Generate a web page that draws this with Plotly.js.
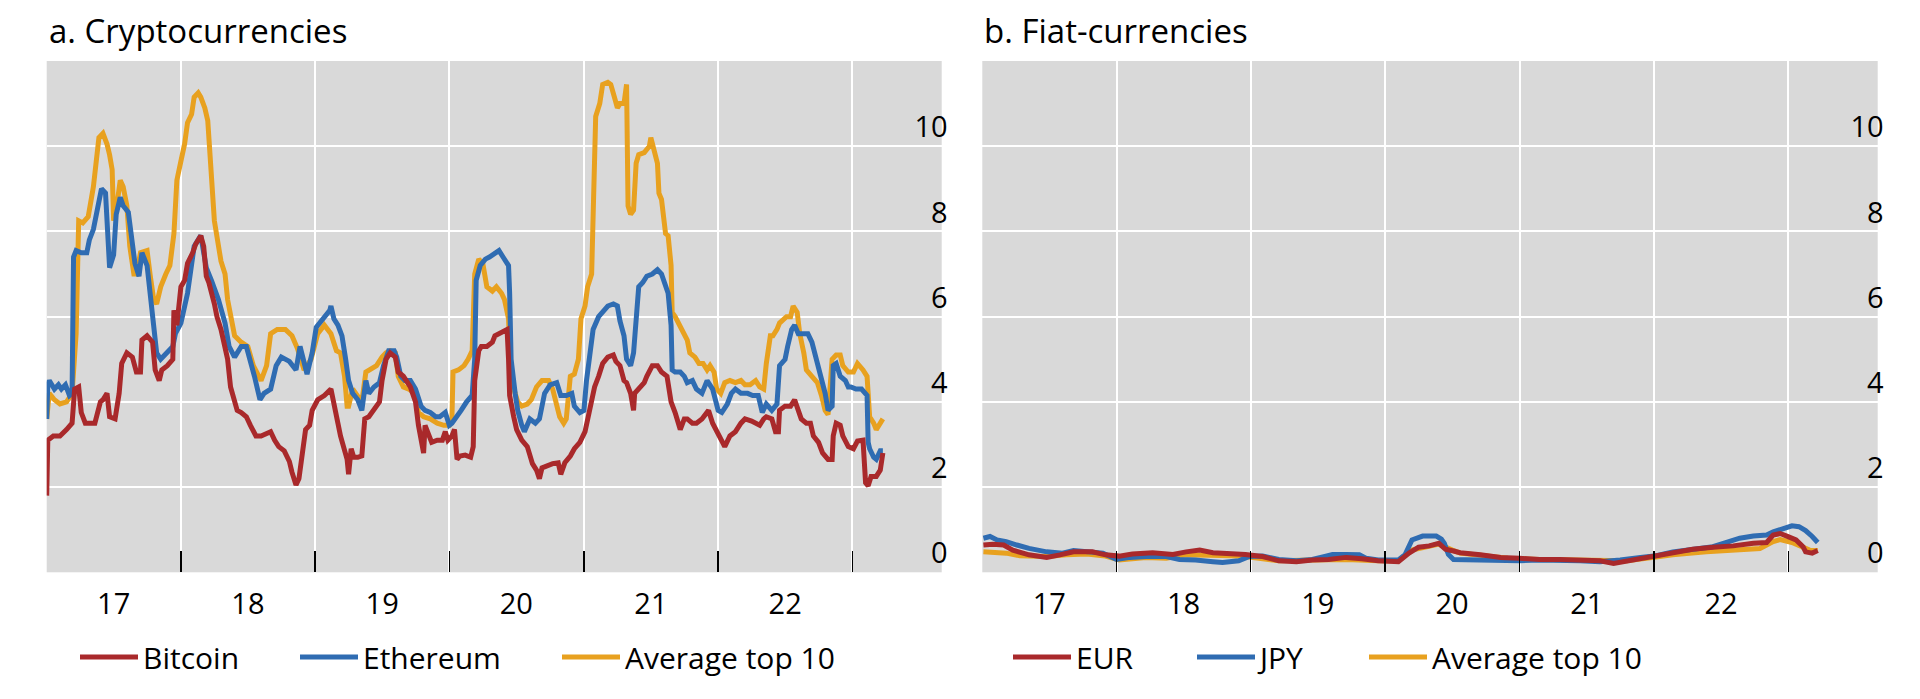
<!DOCTYPE html>
<html><head><meta charset="utf-8">
<script src="https://cdn.plot.ly/plotly-3.0.1.min.js"></script>
<style>html,body{margin:0;padding:0;background:#fff;}#chart{width:1920px;height:699px;}</style>
</head><body><div id="chart"></div>
<script>
// ---------- axis / label data ----------
const yearTicks = ['2017-01-01','2018-01-01','2019-01-01','2020-01-01','2021-01-01','2022-01-01','2023-01-01'];
const yearLabels = ['17','18','19','20','21','22',''];
const yTicks = [0,2,4,6,8,10];
const xRange = ['2017-01-01','2023-09-01'];
const yRange = [0,12];
const panelTitles = ['a. Cryptocurrencies','b. Fiat-currencies'];
const cryptoNames = ['Bitcoin','Ethereum','Average top 10'];
const fiatNames = ['EUR','JPY','Average top 10'];

// ---------- panel a: cryptocurrencies (time in decimal years, value) ----------
const btcT = [2017.00,2017.01,2017.05,2017.10,2017.15,2017.19,2017.21,2017.24,2017.26,2017.29,2017.33,2017.36,2017.40,2017.42,2017.45,2017.47,2017.51,2017.54,2017.56,2017.60,2017.64,2017.67,2017.70,2017.71,2017.75,2017.79,2017.81,2017.84,2017.86,2017.90,2017.94,2017.95,2017.97,2018.00,2018.03,2018.05,2018.09,2018.11,2018.15,2018.17,2018.19,2018.21,2018.25,2018.27,2018.30,2018.32,2018.35,2018.37,2018.40,2018.42,2018.45,2018.49,2018.52,2018.56,2018.60,2018.64,2018.67,2018.70,2018.73,2018.77,2018.81,2018.83,2018.86,2018.88,2018.91,2018.93,2018.96,2018.98,2019.02,2019.07,
2019.12,2019.14,2019.17,2019.19,2019.22,2019.24,2019.25,2019.27,2019.29,2019.32,2019.35,2019.37,2019.40,2019.44,2019.48,2019.50,2019.53,2019.56,2019.60,2019.62,2019.66,2019.71,2019.75,2019.77,2019.80,2019.81,2019.82,2019.85,2019.87,2019.91,2019.95,2019.97,2019.99,2020.02,2020.04,2020.06,2020.08,2020.12,2020.16,2020.18,2020.19,2020.22,2020.24,2020.28,2020.32,2020.34,2020.37,2020.39,2020.43,2020.44,2020.45,2020.48,2020.50,2020.54,2020.58,2020.60,2020.62,2020.65,2020.67,2020.69,2020.72,2020.77,2020.81,2020.83,2020.86,2020.90,2020.93,2020.97,2021.01,2021.03,2021.06,2021.08,2021.11,2021.14,2021.18,2021.22,2021.24,
2021.27,2021.30,2021.32,2021.35,2021.37,2021.38,2021.41,2021.45,2021.47,2021.51,2021.55,2021.58,2021.62,2021.65,2021.68,2021.72,2021.75,2021.77,2021.81,2021.84,2021.88,2021.93,2021.96,2021.99,2022.03,2022.05,2022.09,2022.13,2022.17,2022.20,2022.25,2022.29,2022.31,2022.34,2022.36,2022.40,2022.43,2022.45,2022.46,2022.50,2022.54,2022.57,2022.60,2022.62,2022.66,2022.69,2022.71,2022.75,2022.78,2022.82,2022.85,2022.86,2022.88,2022.91,2022.93,2022.97,2023.01,2023.04,2023.08,2023.10,2023.12,2023.14,2023.18,2023.21,2023.23];
const btcV = [1.8,3.1,3.2,3.2,3.35,3.5,4.3,4.35,3.75,3.5,3.5,3.5,4.0,4.05,4.2,3.65,3.6,4.2,4.9,5.15,5.05,4.7,4.7,5.45,5.55,5.4,4.75,4.5,4.75,4.85,5.0,6.15,5.8,6.7,6.85,7.25,7.5,7.7,7.9,7.65,6.95,6.8,6.3,6.0,5.7,5.4,5.0,4.35,4.05,3.8,3.75,3.65,3.45,3.2,3.2,3.25,3.3,3.1,2.95,2.85,2.6,2.35,2.05,2.2,3.05,3.35,3.45,3.8,4.05,4.15,
4.3,3.9,3.5,3.2,2.9,2.65,2.3,2.9,2.7,2.7,2.73,3.6,3.65,3.8,4.0,4.5,5.0,5.15,5.05,4.7,4.6,4.35,4.0,3.45,2.95,2.8,3.45,3.2,3.05,3.1,3.1,3.3,3.1,3.2,3.35,2.65,2.73,2.75,2.7,2.95,4.5,5.2,5.3,5.3,5.4,5.55,5.6,5.65,5.7,5.0,4.15,3.65,3.35,3.1,2.95,2.75,2.55,2.4,2.2,2.45,2.5,2.55,2.57,2.3,2.57,2.73,2.9,3.05,3.3,3.6,4.05,4.35,4.6,4.9,5.05,5.1,4.95,
4.85,4.5,4.45,4.2,3.8,4.2,4.3,4.45,4.6,4.85,4.85,4.7,4.6,4.0,3.75,3.35,3.6,3.6,3.5,3.5,3.6,3.8,3.5,3.3,3.1,2.95,3.2,3.3,3.5,3.6,3.55,3.5,3.45,3.6,3.65,3.6,3.3,3.3,3.8,3.9,3.9,4.05,3.8,3.6,3.5,3.5,3.2,3.05,2.8,2.65,2.65,3.2,3.5,3.45,3.2,2.95,2.9,3.08,3.1,2.1,2.03,2.25,2.25,2.4,2.8];

const ethT = [2017.00,2017.01,2017.02,2017.06,2017.09,2017.11,2017.14,2017.17,2017.19,2017.20,2017.22,2017.26,2017.30,2017.32,2017.35,2017.39,2017.41,2017.44,2017.45,2017.46,2017.47,2017.50,2017.52,2017.55,2017.57,2017.61,2017.64,2017.66,2017.69,2017.71,2017.75,2017.77,2017.80,2017.82,2017.85,2017.90,2017.94,2017.96,2018.00,2018.05,2018.10,2018.15,2018.19,2018.23,2018.28,2018.33,2018.36,2018.40,2018.45,2018.49,2018.51,2018.55,2018.59,2018.62,2018.67,2018.71,2018.75,2018.81,2018.86,2018.89,2018.94,2018.98,2019.01,2019.06,2019.11,
2019.12,2019.14,2019.17,2019.20,2019.23,2019.25,2019.28,2019.32,2019.35,2019.38,2019.40,2019.44,2019.48,2019.51,2019.55,2019.59,2019.61,2019.64,2019.67,2019.71,2019.75,2019.79,2019.82,2019.86,2019.90,2019.93,2019.97,2020.00,2020.02,2020.06,2020.09,2020.13,2020.17,2020.19,2020.20,2020.23,2020.27,2020.30,2020.34,2020.37,2020.40,2020.44,2020.45,2020.46,2020.49,2020.51,2020.54,2020.56,2020.60,2020.64,2020.67,2020.71,2020.75,2020.80,2020.83,2020.87,2020.91,2020.93,2020.97,2021.00,2021.02,2021.04,2021.07,2021.11,2021.14,2021.18,2021.22,2021.25,
2021.27,2021.30,2021.32,2021.35,2021.37,2021.39,2021.41,2021.44,2021.47,2021.51,2021.55,2021.58,2021.61,2021.63,2021.65,2021.66,2021.68,2021.72,2021.75,2021.77,2021.81,2021.84,2021.88,2021.92,2021.96,2021.98,2022.00,2022.03,2022.07,2022.10,2022.13,2022.17,2022.22,2022.26,2022.30,2022.33,2022.36,2022.40,2022.44,2022.46,2022.50,2022.52,2022.55,2022.57,2022.60,2022.64,2022.67,2022.70,2022.74,2022.77,2022.80,2022.82,2022.85,2022.86,2022.88,2022.91,2022.95,2022.97,2022.99,2023.03,2023.07,2023.11,2023.12,2023.13,2023.16,2023.18,2023.21,2023.23];
const ethV = [3.6,4.4,4.5,4.3,4.4,4.3,4.4,4.15,4.2,7.4,7.55,7.5,7.5,7.8,8.05,8.75,9.0,8.9,8.25,7.35,7.15,7.45,8.4,8.8,8.6,8.45,7.65,7.25,6.95,7.5,7.2,6.55,5.55,5.15,5.0,5.15,5.3,5.6,5.85,6.55,7.65,7.9,7.15,6.85,6.4,5.85,5.3,5.05,5.3,5.3,5.0,4.6,4.05,4.2,4.3,4.85,5.05,4.95,4.75,5.3,4.65,5.15,5.75,5.95,6.15,
6.25,5.95,5.8,5.55,5.0,4.5,4.2,4.05,3.8,4.5,4.2,4.35,4.45,4.85,5.2,5.2,5.05,4.6,4.5,4.5,4.3,3.9,3.8,3.75,3.65,3.65,3.75,3.45,3.5,3.65,3.8,4.0,4.15,5.0,6.85,7.2,7.35,7.4,7.5,7.55,7.4,7.2,6.55,5.0,4.2,3.8,3.45,3.3,3.6,3.5,3.6,4.2,4.4,4.45,4.15,4.15,4.2,3.9,3.75,3.8,4.5,5.0,5.7,6.0,6.1,6.25,6.3,6.25,
5.9,5.55,5.0,4.85,5.15,6.1,6.7,6.8,6.95,7.0,7.1,7.0,6.7,6.55,5.8,4.75,4.7,4.7,4.6,4.45,4.5,4.3,4.2,4.5,4.3,4.05,3.8,3.75,3.95,4.2,4.3,4.2,4.2,4.15,4.15,3.75,3.95,3.8,3.95,4.85,5.0,5.3,5.7,5.8,5.6,5.6,5.6,5.4,4.9,4.6,4.2,3.8,3.9,4.85,4.9,4.6,4.5,4.35,4.35,4.3,4.3,4.15,3.05,2.9,2.7,2.65,2.85,2.85];

const avgCT = [2017.00,2017.02,2017.06,2017.10,2017.15,2017.19,2017.22,2017.24,2017.27,2017.31,2017.35,2017.37,2017.39,2017.42,2017.45,2017.47,2017.49,2017.50,2017.52,2017.55,2017.57,2017.60,2017.62,2017.65,2017.67,2017.70,2017.75,2017.77,2017.80,2017.82,2017.85,2017.89,2017.92,2017.95,2017.97,2018.00,2018.03,2018.05,2018.08,2018.10,2018.13,2018.15,2018.18,2018.20,2018.23,2018.25,2018.30,2018.33,2018.35,2018.38,2018.40,2018.45,2018.50,2018.54,2018.60,2018.64,2018.67,2018.72,2018.78,2018.83,2018.87,2018.92,2018.97,2019.02,2019.07,
2019.12,2019.16,2019.19,2019.22,2019.24,2019.25,2019.28,2019.32,2019.35,2019.38,2019.41,2019.46,2019.50,2019.53,2019.56,2019.60,2019.62,2019.66,2019.70,2019.74,2019.77,2019.81,2019.86,2019.91,2019.96,2020.00,2020.02,2020.03,2020.07,2020.11,2020.14,2020.17,2020.19,2020.22,2020.25,2020.28,2020.32,2020.35,2020.39,2020.41,2020.44,2020.46,2020.49,2020.51,2020.54,2020.58,2020.61,2020.65,2020.69,2020.74,2020.77,2020.80,2020.82,2020.85,2020.87,2020.90,2020.93,2020.96,2020.98,2021.01,2021.03,2021.06,2021.08,2021.09,2021.12,2021.14,2021.18,2021.20,2021.23,2021.25,
2021.27,2021.30,2021.32,2021.33,2021.35,2021.37,2021.39,2021.41,2021.45,2021.49,2021.50,2021.52,2021.55,2021.56,2021.58,2021.61,2021.63,2021.65,2021.66,2021.68,2021.71,2021.75,2021.77,2021.79,2021.83,2021.86,2021.89,2021.92,2021.94,2021.97,2021.99,2022.02,2022.05,2022.09,2022.13,2022.17,2022.20,2022.24,2022.28,2022.31,2022.34,2022.36,2022.39,2022.41,2022.44,2022.46,2022.49,2022.51,2022.54,2022.56,2022.59,2022.61,2022.64,2022.66,2022.70,2022.74,2022.77,2022.80,2022.82,2022.85,2022.88,2022.91,2022.93,2022.97,2023.01,2023.04,2023.08,2023.11,2023.12,2023.13,2023.16,2023.18,2023.21,2023.23];
const avgCV = [3.6,4.2,4.05,3.95,4.0,4.2,5.6,8.25,8.2,8.35,9.05,9.65,10.2,10.3,10.05,9.8,9.45,8.25,8.5,9.2,9.05,8.6,7.65,7.0,7.0,7.5,7.55,7.0,6.4,6.3,6.7,7.0,7.2,7.95,9.2,9.65,10.05,10.55,10.75,11.15,11.25,11.15,10.9,10.6,9.3,8.25,7.3,7.0,6.4,5.8,5.55,5.4,5.3,4.85,4.5,4.85,5.6,5.7,5.7,5.55,5.25,4.75,5.0,5.6,5.8,
5.6,5.2,5.15,4.6,3.9,3.9,4.3,4.15,4.0,4.7,4.75,4.85,5.05,5.15,5.2,5.15,4.6,4.35,4.3,4.2,3.75,3.65,3.6,3.5,3.45,3.45,3.6,4.7,4.75,4.85,5.0,5.2,7.0,7.35,7.25,6.7,6.6,6.7,6.55,6.4,5.95,4.5,4.2,4.0,3.9,3.95,4.05,4.35,4.5,4.5,4.3,3.9,3.65,3.5,3.6,4.6,4.65,5.0,5.95,6.25,6.7,7.0,9.65,10.7,11.0,11.45,11.5,11.45,11.15,10.9,
11.0,11.0,11.45,8.6,8.4,8.5,9.6,9.8,9.85,10.0,10.2,10.0,9.6,8.9,8.75,7.95,7.9,7.2,6.1,6.0,5.8,5.55,5.45,5.15,5.05,4.9,4.9,4.75,4.85,4.7,4.3,4.2,4.45,4.5,4.45,4.5,4.4,4.4,4.5,4.35,4.3,4.9,5.55,5.55,5.7,5.85,5.95,6.0,6.0,6.25,6.1,5.6,5.15,4.75,4.6,4.45,4.15,3.8,3.7,5.0,5.1,5.1,4.85,4.7,4.7,4.9,4.75,4.6,4.2,3.65,3.5,3.35,3.5,3.6];

// ---------- panel b: fiat currencies ----------
const eurT = [2017.01,2017.08,2017.16,2017.23,2017.35,2017.48,2017.58,2017.68,2017.82,2017.92,2018.02,2018.12,2018.27,2018.42,2018.52,2018.62,2018.72,2018.84,2018.96,2019.09,2019.21,2019.34,2019.46,2019.58,2019.71,2019.83,2019.95,2020.10,2020.18,2020.25,2020.33,2020.40,2020.45,2020.51,2020.56,2020.71,2020.86,2021.00,2021.15,2021.30,2021.45,2021.60,2021.70,2021.80,2021.90,2022.00,2022.14,2022.29,2022.44,2022.59,2022.74,2022.84,2022.89,2022.94,2022.99,2023.06,2023.11,2023.13,2023.18,2023.22];
const eurV = [0.64,0.66,0.64,0.52,0.41,0.35,0.41,0.48,0.48,0.41,0.38,0.43,0.46,0.42,0.48,0.52,0.46,0.45,0.42,0.37,0.27,0.25,0.29,0.3,0.35,0.32,0.27,0.25,0.45,0.59,0.62,0.68,0.54,0.5,0.46,0.41,0.35,0.33,0.3,0.3,0.29,0.27,0.21,0.27,0.33,0.38,0.46,0.54,0.59,0.62,0.68,0.7,0.875,0.91,0.85,0.76,0.6,0.48,0.45,0.51];

const jpyT = [2017.01,2017.06,2017.11,2017.18,2017.26,2017.35,2017.48,2017.60,2017.68,2017.80,2017.90,2018.00,2018.10,2018.22,2018.37,2018.47,2018.59,2018.72,2018.79,2018.91,2018.99,2019.09,2019.21,2019.34,2019.46,2019.56,2019.61,2019.71,2019.81,2019.86,2019.95,2020.10,2020.15,2020.20,2020.28,2020.38,2020.42,2020.44,2020.47,2020.51,2020.61,2020.71,2020.86,2021.00,2021.15,2021.30,2021.45,2021.60,2021.70,2021.75,2021.90,2022.00,2022.14,2022.29,2022.44,2022.54,2022.64,2022.74,2022.84,2022.89,2022.96,2023.03,2023.08,2023.13,2023.18,2023.22];
const jpyV = [0.8,0.84,0.76,0.72,0.64,0.56,0.48,0.45,0.51,0.48,0.45,0.3,0.35,0.37,0.37,0.3,0.29,0.25,0.23,0.27,0.37,0.38,0.3,0.27,0.3,0.38,0.42,0.42,0.41,0.33,0.29,0.29,0.41,0.76,0.85,0.85,0.78,0.68,0.42,0.3,0.29,0.3,0.29,0.27,0.29,0.29,0.27,0.25,0.27,0.29,0.35,0.38,0.48,0.54,0.6,0.7,0.8,0.85,0.875,0.95,1.03,1.09,1.07,0.98,0.84,0.7];

const avgFT = [2017.01,2017.11,2017.18,2017.28,2017.48,2017.63,2017.78,2017.92,2018.02,2018.22,2018.37,2018.52,2018.72,2018.86,2018.96,2019.21,2019.46,2019.71,2019.95,2020.10,2020.20,2020.30,2020.40,2020.50,2020.56,2020.71,2020.91,2021.15,2021.60,2021.80,2022.00,2022.14,2022.39,2022.64,2022.79,2022.89,2022.94,2023.03,2023.11,2023.16,2023.22];
const avgFV = [0.48,0.47,0.45,0.39,0.37,0.41,0.43,0.38,0.29,0.35,0.33,0.41,0.41,0.39,0.37,0.27,0.29,0.3,0.27,0.27,0.52,0.6,0.66,0.52,0.45,0.4,0.33,0.3,0.27,0.27,0.35,0.41,0.48,0.52,0.56,0.72,0.77,0.7,0.59,0.52,0.51];

// ---------- styling ----------
const RED = '#A9292B', BLUE = '#2F6CB2', ORANGE = '#E8A11F';
const FONT = '"Open Sans", "Noto Sans", sans-serif';
const LW = 5;

function toDate(t) {
  const y = Math.floor(t + 1e-9);
  const a = Date.UTC(y, 0, 1), b = Date.UTC(y + 1, 0, 1);
  return new Date(a + (t - y) * (b - a)).toISOString().slice(0, 10);
}

function line(T, V, name, color, xa, ya, leg) {
  return {type: 'scatter', mode: 'lines', x: T.map(toDate), y: V, name: name,
          line: {color: color, width: LW}, xaxis: xa, yaxis: ya, legend: leg, hoverinfo: 'skip'};
}

const traces = [
  line(avgCT, avgCV, cryptoNames[2], ORANGE, 'x', 'y', 'legend3'),
  line(ethT, ethV, cryptoNames[1], BLUE, 'x', 'y', 'legend2'),
  line(btcT, btcV, cryptoNames[0], RED, 'x', 'y', 'legend'),
  line(avgFT, avgFV, fiatNames[2], ORANGE, 'x2', 'y2', 'legend6'),
  line(jpyT, jpyV, fiatNames[1], BLUE, 'x2', 'y2', 'legend5'),
  line(eurT, eurV, fiatNames[0], RED, 'x2', 'y2', 'legend4')
];

const W = 1920, H = 699;
const tickFont = {family: FONT, size: 29, color: '#000'};
function xAxis(domain, anchor) {
  return {domain: domain, anchor: anchor, type: 'date', range: xRange, tickmode: 'array',
    tickvals: yearTicks, ticktext: yearLabels, ticks: 'inside', ticklen: 21, tickwidth: 1.3,
    tickcolor: '#000', showgrid: true, gridcolor: '#fff', gridwidth: 2, zeroline: false,
    showline: false, ticklabelshift: 67, ticklabelstandoff: 12, tickfont: tickFont, fixedrange: true};
}
function yAxis(anchor) {
  return {domain: [(H - 572.3) / H, (H - 61) / H], anchor: anchor, range: yRange, tickmode: 'array',
    tickvals: yTicks, side: 'right', ticklabelposition: 'inside', ticklabeloverflow: 'allow',
    ticklabelshift: -19, ticklabelstandoff: -9, ticks: '',
    showgrid: true, gridcolor: '#fff', gridwidth: 2, zeroline: false, showline: false,
    tickfont: tickFont, fixedrange: true};
}
function legendAt(px) {
  return {x: px / W, xanchor: 'left', y: (H - 657) / H, yanchor: 'middle', orientation: 'h',
    bgcolor: 'rgba(0,0,0,0)', borderwidth: 0, itemwidth: 58,
    font: {family: FONT, size: 30, color: '#000'}};
}

const layout = {
  width: W, height: H, margin: {l: 0, r: 0, t: 0, b: 0},
  paper_bgcolor: '#fff', plot_bgcolor: '#D9D9D9',
  xaxis: xAxis([46.7 / W, 941.7 / W], 'y'),
  yaxis: yAxis('x'),
  xaxis2: xAxis([982.3 / W, 1877.7 / W], 'y2'),
  yaxis2: yAxis('x2'),
  showlegend: true,
  legend: legendAt(75), legend2: legendAt(295), legend3: legendAt(557),
  legend4: legendAt(1008), legend5: legendAt(1192), legend6: legendAt(1364),
  annotations: [
    {text: panelTitles[0], xref: 'paper', yref: 'paper', x: 46.7 / W, xanchor: 'left',
     y: (H - 30.5) / H, yanchor: 'middle', showarrow: false, font: {family: FONT, size: 33, color: '#000'}},
    {text: panelTitles[1], xref: 'paper', yref: 'paper', x: 982.3 / W, xanchor: 'left',
     y: (H - 30.5) / H, yanchor: 'middle', showarrow: false, font: {family: FONT, size: 33, color: '#000'}}
  ]
};

Plotly.newPlot('chart', traces, layout, {staticPlot: true, displayModeBar: false});
</script>
</body></html>
